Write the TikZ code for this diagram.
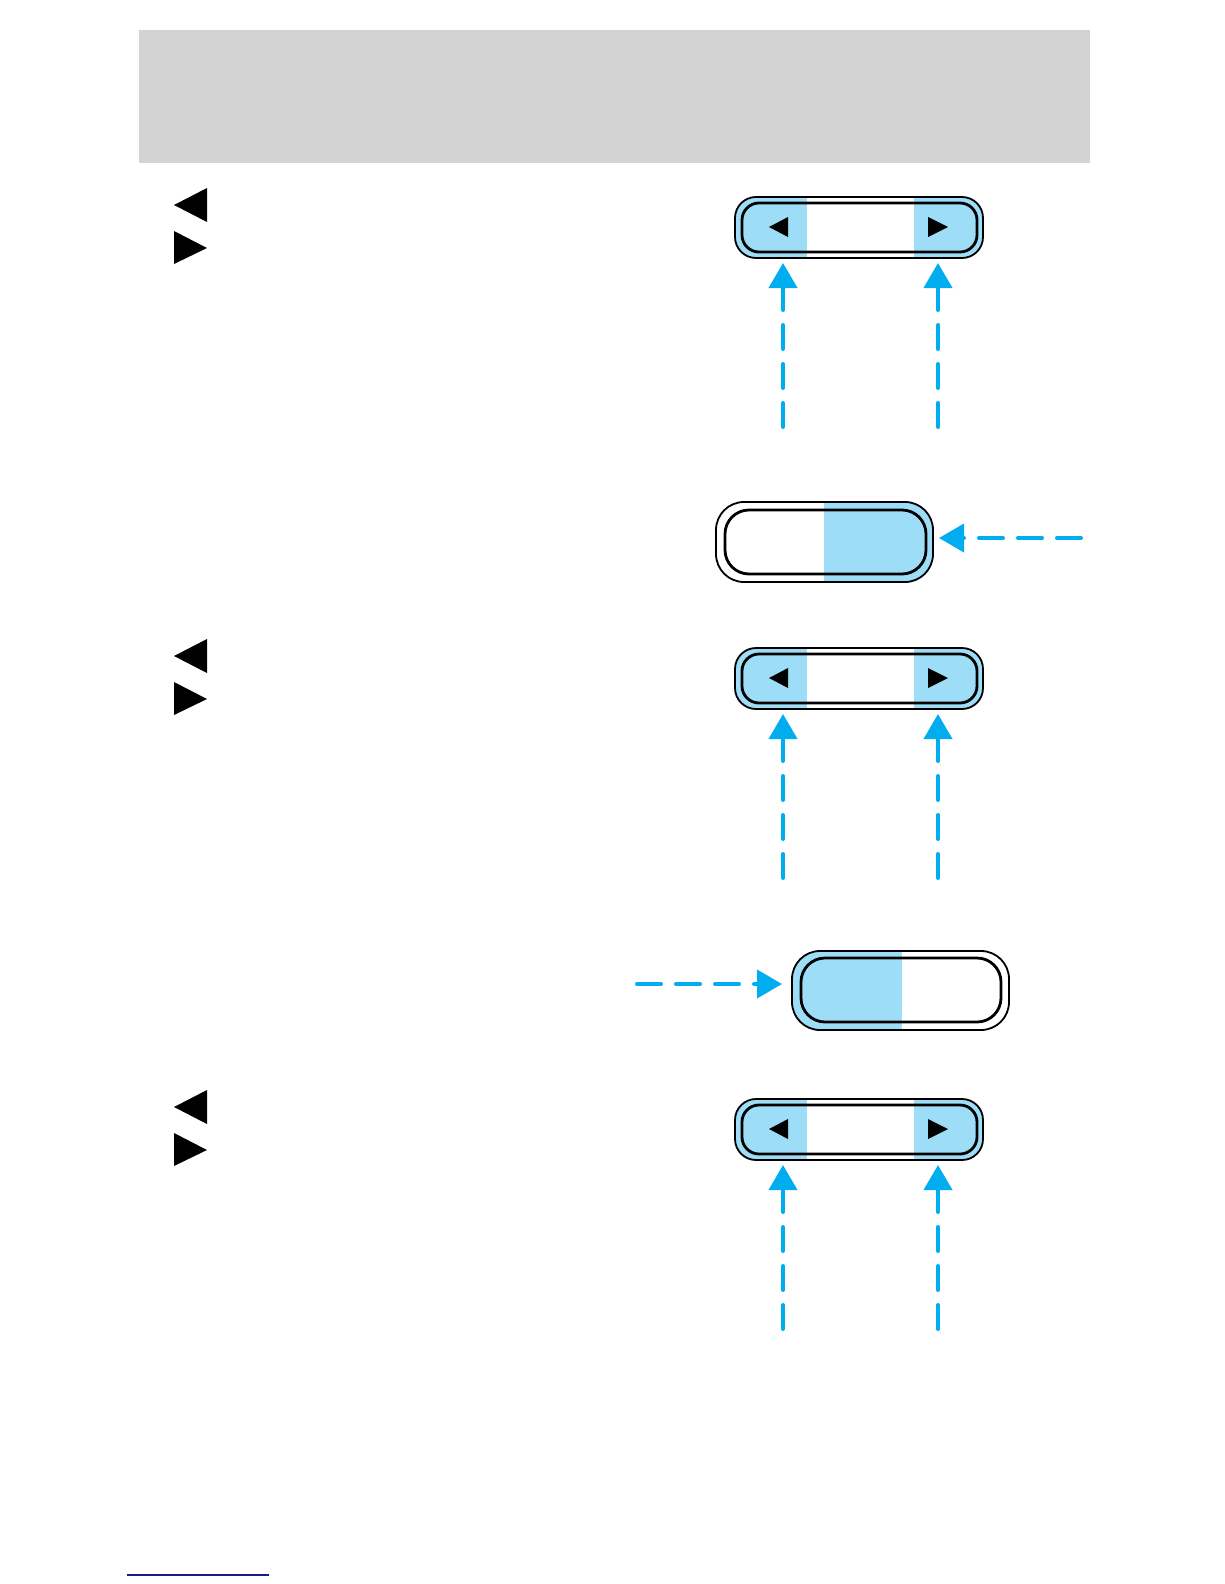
\documentclass[tikz,border=0pt]{standalone}
\usetikzlibrary{arrows.meta}
\definecolor{hdrgray}{RGB}{211,211,211}
\definecolor{btnblue}{RGB}{158,221,247}
\definecolor{arrowcyan}{RGB}{0,174,239}
\definecolor{linknavy}{RGB}{26,26,140}
\tikzset{
  outerbtn/.style={draw=black,line width=1.8pt},
  innerbtn/.style={draw=black,line width=2.8pt},
  dasharrow/.style={draw=arrowcyan,line width=4pt,line cap=round,
    dash pattern=on 24pt off 15pt,
    -{Triangle[width=28pt,length=25pt]}},
  tri/.style={fill=black}
}
\begin{document}
\begin{tikzpicture}[x=1pt,y=-1pt]
\useasboundingbox (0,0) rectangle (1224,1584);
\fill[white] (0,0) rectangle (1224,1584);
% header
\fill[hdrgray] (139,30) rectangle (1090,163);

% rocker buttons with two arrows (rows 1, 3, 5)
\foreach \dy/\r in {0/a,451/b,902/c}{
  % side triangles
  \fill[tri] (174,{205+\dy}) -- (207,{188+\dy}) -- (207,{222+\dy}) -- cycle;
  \fill[tri] (174,{231+\dy}) -- (207,{248+\dy}) -- (174,{264+\dy}) -- cycle;
  % blue parts
  \begin{scope}
    \clip[rounded corners=21pt] (735,{197+\dy}) rectangle (983,{258+\dy});
    \fill[btnblue] (730,{190+\dy}) rectangle (807,{265+\dy});
    \fill[btnblue] (914,{190+\dy}) rectangle (988,{265+\dy});
  \end{scope}
  \draw[outerbtn,rounded corners=21pt] (735,{197+\dy}) rectangle (983,{258+\dy});
  \draw[innerbtn,rounded corners=17pt] (742,{203+\dy}) rectangle (977,{252+\dy});
  % button triangles
  \fill[tri] (769,{227+\dy}) -- (788,{217+\dy}) -- (788,{237+\dy}) -- cycle;
  \fill[tri] (948,{227+\dy}) -- (928,{217+\dy}) -- (928,{237+\dy}) -- cycle;
  % arrows
  \coordinate (\r ls) at (783,{427+\dy});
  \coordinate (\r le) at (783,{263+\dy});
  \coordinate (\r rs) at (938,{427+\dy});
  \coordinate (\r re) at (938,{263+\dy});
  \draw[dasharrow] (\r ls) -- (\r le);
  \draw[dasharrow] (\r rs) -- (\r re);
}

% button row 2 (right half blue)
\begin{scope}
  \clip[rounded corners=28pt] (716,502) rectangle (933,582);
  \fill[btnblue] (824,495) rectangle (940,590);
\end{scope}
\draw[outerbtn,rounded corners=28pt] (716,502) rectangle (933,582);
\draw[innerbtn,rounded corners=24pt] (725,510) rectangle (926,574);
\coordinate (h2s) at (1081,538);
\coordinate (h2e) at (939,538);
\draw[dasharrow] (h2s) -- (h2e);

% button row 4 (left half blue)
\begin{scope}
  \clip[rounded corners=28pt] (792,951) rectangle (1009,1030);
  \fill[btnblue] (785,945) rectangle (902,1035);
\end{scope}
\draw[outerbtn,rounded corners=28pt] (792,951) rectangle (1009,1030);
\draw[innerbtn,rounded corners=24pt] (801,958) rectangle (1001,1022);
\coordinate (h4s) at (637,984);
\coordinate (h4e) at (782,984);
\draw[dasharrow] (h4s) -- (h4e);

% bottom link underline
\coordinate (ul1) at (127,1575);
\coordinate (ul2) at (269,1575);
\draw[linknavy,line width=1.8pt] (ul1) -- (ul2);
\end{tikzpicture}
\end{document}
